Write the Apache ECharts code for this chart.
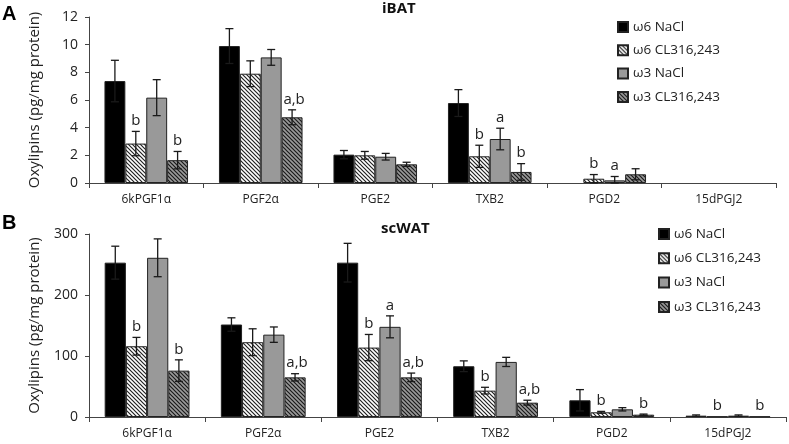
<!DOCTYPE html>
<html><head><meta charset="utf-8">
<script src="https://cdn.jsdelivr.net/npm/echarts@6/dist/echarts.min.js"></script>
<style>html,body{margin:0;padding:0;background:#fff}#c{width:789px;height:444px}</style>
</head><body><div id="c"></div>
<script>
// ---- data ----
const categories = ['6kPGF1α','PGF2α','PGE2','TXB2','PGD2','15dPGJ2'];
const seriesNames = ['ω6 NaCl','ω6 CL316,243','ω3 NaCl','ω3 CL316,243'];

// iBAT (panel A) — null = not detected (no bar drawn)
const iBAT_w6NaCl     = [7.37, 9.9, 2.05, 5.78, null, null];
const iBAT_w6CL       = [2.85, 7.9, 2.0, 1.93, 0.31, null];
const iBAT_w3NaCl     = [6.17, 9.08, 1.9, 3.18, 0.19, null];
const iBAT_w3CL       = [1.65, 4.75, 1.35, 0.8, 0.63, null];
const iBAT_w6NaCl_err = [1.5, 1.26, 0.3, 0.97, 0, 0];
const iBAT_w6CL_err   = [0.88, 0.93, 0.28, 0.8, 0.3, 0];
const iBAT_w3NaCl_err = [1.3, 0.57, 0.24, 0.78, 0.28, 0];
const iBAT_w3CL_err   = [0.63, 0.54, 0.15, 0.6, 0.4, 0];
const iBAT_w6NaCl_lab = ['', '', '', '', '', ''];
const iBAT_w6CL_lab   = ['b', '', '', 'b', 'b', ''];
const iBAT_w3NaCl_lab = ['', '', '', 'a', 'a', ''];
const iBAT_w3CL_lab   = ['b', 'a,b', '', 'b', '', ''];

// scWAT (panel B)
const scWAT_w6NaCl     = [253, 151.6, 253, 83.2, 27.4, 2.2];
const scWAT_w6CL       = [116, 122.6, 113.8, 43.2, 7.7, 0.8];
const scWAT_w3NaCl     = [261, 135, 147.8, 90.3, 12.6, 2.2];
const scWAT_w3CL       = [76, 65, 65, 23.5, 3.8, 0.8];
const scWAT_w6NaCl_err = [27, 11, 31.7, 8.8, 17.5, 1.2];
const scWAT_w6CL_err   = [14.5, 22, 21.5, 5.5, 1.5, 0];
const scWAT_w3NaCl_err = [31, 12.6, 18, 7.5, 2.7, 1.2];
const scWAT_w3CL_err   = [17.7, 6, 7, 4, 1, 0];
const scWAT_w6NaCl_lab = ['', '', '', '', '', ''];
const scWAT_w6CL_lab   = ['b', '', 'b', 'b', 'b', 'b'];
const scWAT_w3NaCl_lab = ['', '', 'a', '', '', ''];
const scWAT_w3CL_lab   = ['b', 'a,b', 'a,b', 'a,b', 'b', 'b'];

const yTicksA = {min: 0, max: 12, interval: 2};
const yTicksB = {min: 0, max: 300, interval: 100};

// ---- styles ----
function hatch(bg, line) {
  const s = 4;
  const cv = document.createElement('canvas');
  cv.width = s; cv.height = s;
  const g = cv.getContext('2d');
  g.fillStyle = bg; g.fillRect(0, 0, s, s);
  g.strokeStyle = line; g.lineWidth = 1.2;
  g.beginPath();
  g.moveTo(-1, -1); g.lineTo(s + 1, s + 1);
  g.moveTo(-1, s - 1); g.lineTo(1, s + 1);
  g.moveTo(s - 1, -1); g.lineTo(s + 1, 1);
  g.stroke();
  return {image: cv, repeat: 'repeat'};
}
const fills = ['#000000', hatch('#ffffff', '#222222'), '#999999', hatch('#9a9a9a', '#1a1a1a')];
const FONT = 'Open Sans';
const CAT_GAP = 0.27;

const panels = [
  {vals: [iBAT_w6NaCl, iBAT_w6CL, iBAT_w3NaCl, iBAT_w3CL],
   errs: [iBAT_w6NaCl_err, iBAT_w6CL_err, iBAT_w3NaCl_err, iBAT_w3CL_err],
   labs: [iBAT_w6NaCl_lab, iBAT_w6CL_lab, iBAT_w3NaCl_lab, iBAT_w3CL_lab]},
  {vals: [scWAT_w6NaCl, scWAT_w6CL, scWAT_w3NaCl, scWAT_w3CL],
   errs: [scWAT_w6NaCl_err, scWAT_w6CL_err, scWAT_w3NaCl_err, scWAT_w3CL_err],
   labs: [scWAT_w6NaCl_lab, scWAT_w6CL_lab, scWAT_w3NaCl_lab, scWAT_w3CL_lab]}
];

const series = [];
panels.forEach((p, g) => {
  p.vals.forEach((v, k) => {
    series.push({
      type: 'bar', name: seriesNames[k], xAxisIndex: g, yAxisIndex: g,
      data: v.map(x => (x === null ? '-' : x)), barGap: '0%', barCategoryGap: (CAT_GAP * 100) + '%',
      itemStyle: {color: fills[k], borderColor: '#222', borderWidth: 1},
      emphasis: {disabled: true}, animation: false
    });
  });
  p.vals.forEach((v, k) => {
    const errs = p.errs[k], labs = p.labs[k];
    series.push({
      type: 'custom', xAxisIndex: g, yAxisIndex: g, z: 10, silent: true, animation: false,
      data: v.map((val, i) => [i, val === null ? 0 : val, errs[i]]),
      renderItem: function (params, api) {
        const i = api.value(0), val = api.value(1), e = api.value(2);
        const lab = labs[params.dataIndex];
        const band = api.size([1, 0])[0];
        const bw = band * (1 - CAT_GAP) / 4;
        const c = api.coord([i, val]);
        const x = c[0] + (k - 1.5) * bw;
        const top = api.coord([i, val + e])[1];
        const bot = api.coord([i, Math.max(0, val - e)])[1];
        const children = [];
        const ls = {stroke: '#1a1a1a', lineWidth: 1.3};
        if (e > 0) {
          children.push({type: 'line', shape: {x1: x, y1: top, x2: x, y2: bot}, style: ls});
          children.push({type: 'line', shape: {x1: x - 4, y1: top, x2: x + 4, y2: top}, style: ls});
          children.push({type: 'line', shape: {x1: x - 4, y1: bot, x2: x + 4, y2: bot}, style: ls});
        }
        if (lab) {
          children.push({type: 'text', x: x + (lab.length > 1 ? 2 : 0), y: top - 3,
            style: {text: lab, fill: '#222', font: '15px "' + FONT + '"', align: 'center', verticalAlign: 'bottom'}});
        }
        return {type: 'group', children: children};
      }
    });
  });
});

const grids = [
  {left: 89, right: 13, top: 17, bottom: 261},
  {left: 89, right: 3, top: 234, bottom: 27}
];
const axisLine = {lineStyle: {color: '#444', width: 1}};
const xAxes = grids.map((_, g) => ({
  type: 'category', gridIndex: g, data: categories,
  axisLine: axisLine, axisTick: {show: true, length: 5, lineStyle: {color: '#444'}},
  axisLabel: {color: '#222', fontSize: 12, fontFamily: FONT, margin: 11}
}));
const yAxes = [yTicksA, yTicksB].map((t, g) => ({
  type: 'value', gridIndex: g, min: t.min, max: t.max, interval: t.interval,
  name: 'Oxylipins (pg/mg protein)', nameLocation: 'middle', nameGap: 47,
  nameTextStyle: {color: '#222', fontSize: 15, fontFamily: FONT},
  axisLine: Object.assign({show: true}, axisLine),
  axisTick: {show: true, length: 4, lineStyle: {color: '#444'}},
  splitLine: {show: false},
  axisLabel: {color: '#222', fontSize: 14, fontFamily: FONT, margin: 11}
}));

const legendBase = {
  orient: 'vertical', icon: 'rect', itemWidth: 10, itemHeight: 10,
  textStyle: {color: '#222', fontSize: 13.5, fontFamily: FONT, lineHeight: 14},
  data: seriesNames, selectedMode: false
};

const chart = echarts.init(document.getElementById('c'), null, {renderer: 'canvas'});
chart.setOption({
  animation: false,
  title: [
    {text: 'iBAT', left: 382, top: 1, padding: 0, textStyle: {fontSize: 15, fontWeight: 'bold', color: '#111', fontFamily: FONT}},
    {text: 'scWAT', left: 381, top: 221, padding: 0, textStyle: {fontSize: 15, fontWeight: 'bold', color: '#111', fontFamily: FONT}},
    {text: 'A', left: 2, top: 4, padding: 0, textStyle: {fontSize: 20, fontWeight: 'bold', color: '#000', fontFamily: 'Liberation Sans'}},
    {text: 'B', left: 2, top: 213, padding: 0, textStyle: {fontSize: 20, fontWeight: 'bold', color: '#000', fontFamily: 'Liberation Sans'}}
  ],
  legend: [
    Object.assign({}, legendBase, {left: 617, top: 20, itemGap: 9.3, padding: 0}),
    Object.assign({}, legendBase, {left: 658, top: 227, itemGap: 10.3, padding: 0})
  ],
  grid: grids,
  xAxis: xAxes,
  yAxis: yAxes,
  series: series
});
</script>
</body></html>
